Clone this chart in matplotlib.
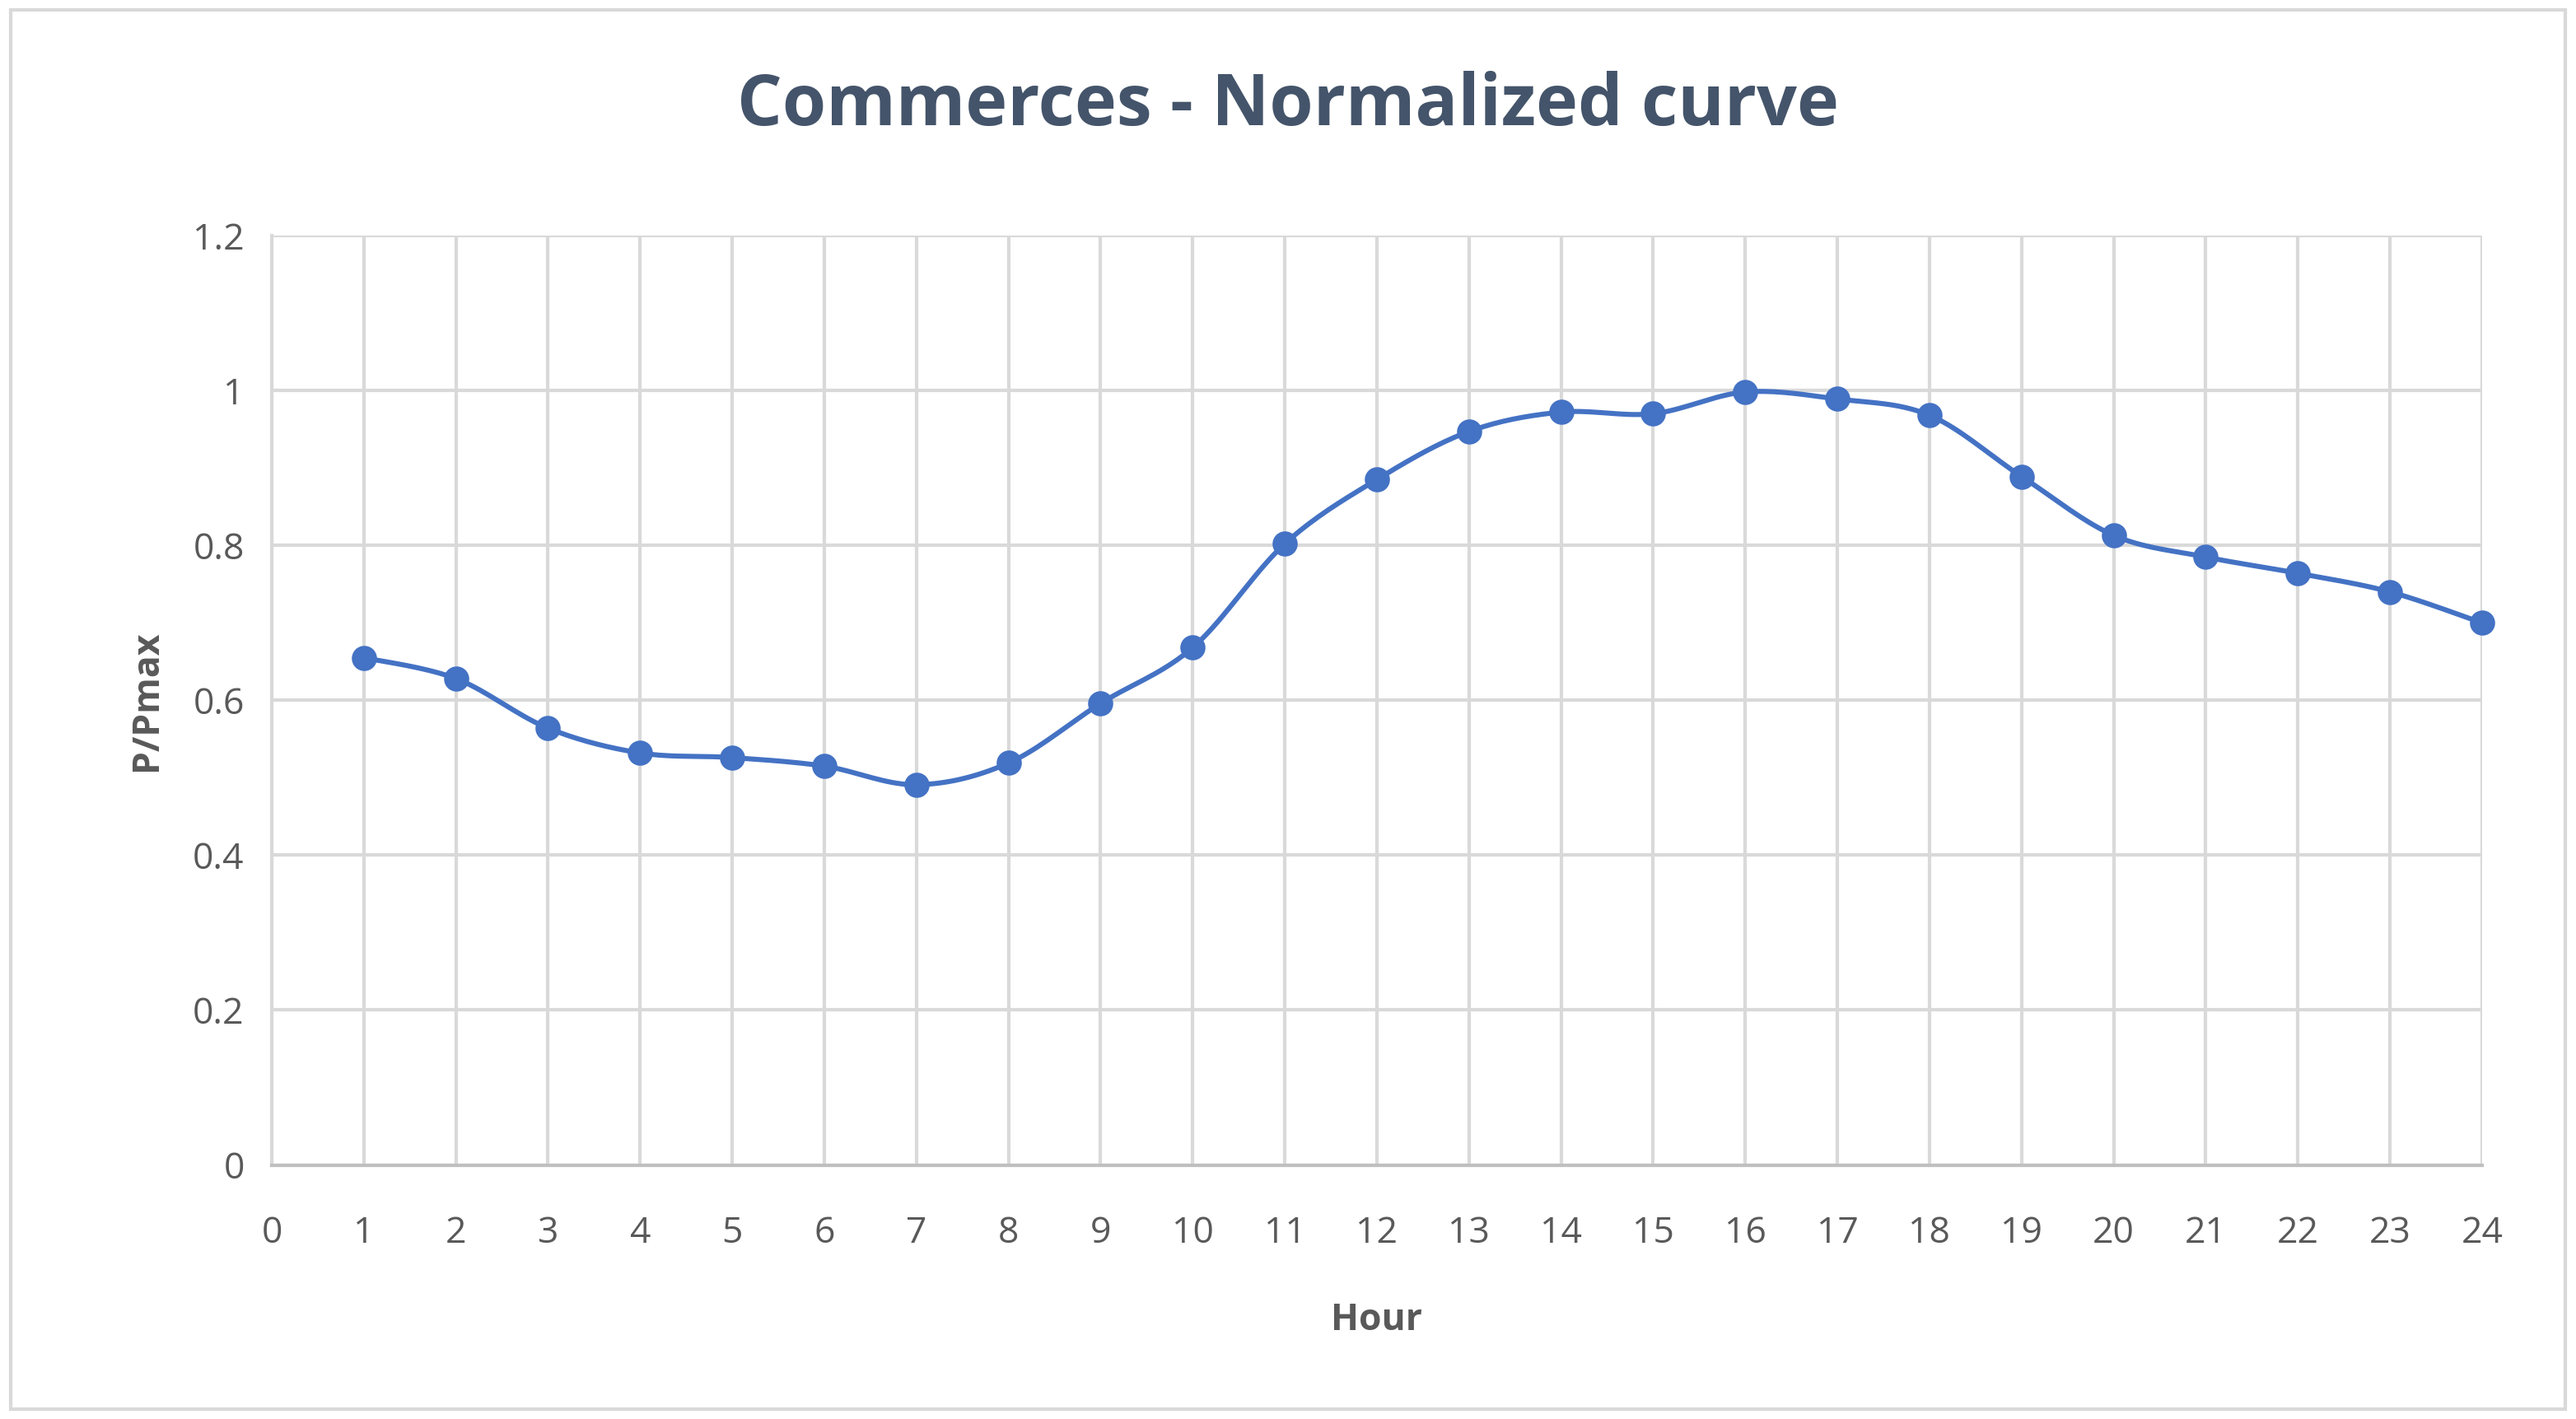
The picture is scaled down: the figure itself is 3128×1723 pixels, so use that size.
import numpy as np
import matplotlib.pyplot as plt
from matplotlib.patches import Rectangle

hours = list(range(1, 25))
p_pmax = [0.655, 0.628, 0.564, 0.532, 0.526, 0.515, 0.491, 0.519, 0.596, 0.668,
          0.802, 0.885, 0.947, 0.972, 0.970, 0.998, 0.989, 0.968, 0.889, 0.813,
          0.785, 0.764, 0.740, 0.700]

plt.rcParams['font.family'] = ['Open Sans', 'DejaVu Sans']
blue = '#4472C4'
text_col = '#595959'


def smooth(x, y, n=20):
    # Catmull-Rom style smoothing like Excel's smoothed line
    x = np.asarray(x, float)
    y = np.asarray(y, float)
    px = np.concatenate([[x[0]], x, [x[-1]]])
    py = np.concatenate([[y[0]], y, [y[-1]]])
    xs, ys = [], []
    t = np.linspace(0, 1, n)
    for i in range(1, len(px) - 2):
        for p, out in ((px, xs), (py, ys)):
            p0, p1, p2, p3 = p[i - 1], p[i], p[i + 1], p[i + 2]
            m1 = (p2 - p0) / 2
            m2 = (p3 - p1) / 2
            h00 = 2 * t**3 - 3 * t**2 + 1
            h10 = t**3 - 2 * t**2 + t
            h01 = -2 * t**3 + 3 * t**2
            h11 = t**3 - t**2
            out.extend(h00 * p1 + h10 * m1 + h01 * p2 + h11 * m2)
    return xs, ys


fig = plt.figure(figsize=(15.64, 8.615), dpi=200)
fig.patches.append(Rectangle((0.004, 0.007), 0.992, 0.986, transform=fig.transFigure,
                             fill=False, edgecolor='#D9D9D9', linewidth=1.5))
ax = fig.add_axes([0.1055, 0.179, 0.858, 0.655])

sx, sy = smooth(hours, p_pmax)
ax.plot(sx, sy, color=blue, linewidth=2.2, clip_on=False)
ax.plot(hours, p_pmax, 'o', color=blue, markersize=10, clip_on=False, zorder=3)

ax.set_xlim(0, 24)
ax.set_ylim(0, 1.2)
ax.set_xticks(range(0, 25))
ax.set_yticks([0, 0.2, 0.4, 0.6, 0.8, 1, 1.2])
ax.set_yticklabels(['0', '0.2', '0.4', '0.6', '0.8', '1', '1.2'])
ax.grid(True, color='#D9D9D9', linewidth=1.5)
ax.set_axisbelow(True)
for s in ['top', 'right']:
    ax.spines[s].set_visible(False)
ax.spines['left'].set_color('#D9D9D9')
ax.spines['bottom'].set_color('#BFBFBF')
ax.spines['left'].set_linewidth(1.5)
ax.spines['bottom'].set_linewidth(1.5)
ax.tick_params(axis='y', length=0, labelsize=16, colors=text_col, pad=12)
ax.tick_params(axis='x', length=0, labelsize=16, colors=text_col, pad=22)

ax.set_xlabel('Hour', fontsize=16, fontweight='bold', color=text_col, labelpad=22)
ax.set_ylabel('P/Pmax', fontsize=16, fontweight='bold', color=text_col, labelpad=12)
fig.suptitle('Commerces - Normalized curve', fontsize=31, fontweight='bold',
             color='#44546A', y=0.95)

fig.savefig('out.png', dpi=200)
